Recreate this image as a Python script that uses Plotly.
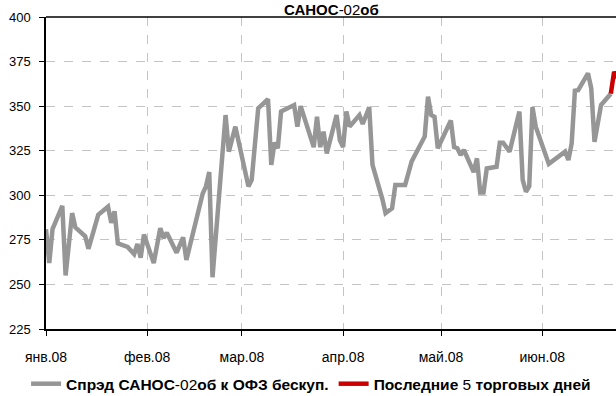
import plotly.graph_objects as go

# Spread series (gray)
dates = [
    "2008-01-01", "2008-01-02", "2008-01-03", "2008-01-06", "2008-01-07", "2008-01-09",
    "2008-01-10", "2008-01-13", "2008-01-14", "2008-01-17", "2008-01-20", "2008-01-21",
    "2008-01-22", "2008-01-23", "2008-01-26", "2008-01-28", "2008-01-29", "2008-01-30",
    "2008-01-31", "2008-02-03", "2008-02-05", "2008-02-06", "2008-02-07", "2008-02-10",
    "2008-02-12", "2008-02-13", "2008-02-18", "2008-02-19", "2008-02-20", "2008-02-21",
    "2008-02-25", "2008-02-26", "2008-02-28", "2008-03-03", "2008-03-04", "2008-03-06",
    "2008-03-09", "2008-03-10", "2008-03-11", "2008-03-12", "2008-03-13", "2008-03-17",
    "2008-03-18", "2008-03-19", "2008-03-23", "2008-03-24", "2008-03-25", "2008-03-26",
    "2008-03-27", "2008-03-30", "2008-03-31", "2008-04-01", "2008-04-02", "2008-04-03",
    "2008-04-06", "2008-04-07", "2008-04-09", "2008-04-10", "2008-04-13", "2008-04-14",
    "2008-04-16", "2008-04-17", "2008-04-20", "2008-04-22", "2008-04-26", "2008-04-27",
    "2008-04-28", "2008-04-29", "2008-04-30", "2008-05-04", "2008-05-05", "2008-05-06",
    "2008-05-07", "2008-05-08", "2008-05-11", "2008-05-12", "2008-05-13", "2008-05-14",
    "2008-05-15", "2008-05-18", "2008-05-19", "2008-05-20", "2008-05-22", "2008-05-25",
    "2008-05-26", "2008-05-27", "2008-05-28", "2008-05-29", "2008-05-30", "2008-06-02",
    "2008-06-03", "2008-06-08", "2008-06-09", "2008-06-10", "2008-06-11", "2008-06-12",
    "2008-06-15", "2008-06-16", "2008-06-17", "2008-06-19", "2008-06-22",
]
spread = [
    281, 262, 281, 294, 255, 290,
    282, 277, 270, 289, 293.6, 284.5,
    291, 273, 271, 267, 272.7, 265,
    278, 262, 281.6, 276, 279, 267.8,
    276.4, 263.7, 301, 305, 313, 254,
    345, 324.5, 338.5, 305, 308.6, 348.8,
    354, 317, 329.5, 326.4, 347, 350.6,
    338.5, 350, 327, 344, 327, 335.7,
    323.5, 345, 331, 327, 347, 338.5,
    345, 340, 349.4, 317, 298, 290,
    292.7, 305.8, 305.8, 319, 333, 355.3,
    345, 344, 326.4, 342, 327, 326.4,
    322.6, 325.4, 313, 320.7, 301.5, 301.5,
    315, 316, 329.5, 329.5, 324.5, 347,
    308.6, 302, 305, 349.4, 338.5, 321.3,
    317.6, 324.5, 319.8, 329, 358.7, 359,
    368.4, 360, 330, 350.6, 357,
]

# Last 5 trading days (red)
last_dates = ["2008-06-22", "2008-06-23", "2008-06-24", "2008-06-25", "2008-06-26"]
last_vals = [357, 369.3, 366, 370, 368]

month_ticks = ["2008-01-01", "2008-02-01", "2008-03-01", "2008-04-01", "2008-05-01", "2008-06-01"]
month_labels = ["янв.08", "фев.08", "мар.08", "апр.08", "май.08", "июн.08"]
y_ticks = [225, 250, 275, 300, 325, 350, 375, 400]

FONT = "Liberation Sans, Arial, sans-serif"

fig = go.Figure()
fig.add_trace(go.Scatter(
    x=dates, y=spread, mode="lines",
    line=dict(color="#969696", width=4.5),
    name="<b>Спрэд САНОС</b>-02<b>об к ОФЗ бескуп.</b>",
))
fig.add_trace(go.Scatter(
    x=last_dates, y=last_vals, mode="lines",
    line=dict(color="#cc0000", width=4.5),
    name="<b>Последние</b> 5 <b>торговых дней</b>",
))

fig.update_layout(
    width=616, height=396,
    margin=dict(l=46, r=0, t=17, b=67, autoexpand=False),
    paper_bgcolor="white", plot_bgcolor="white",
    font=dict(family=FONT, size=14, color="black"),
    showlegend=True,
    legend=dict(
        orientation="h", xref="container", yref="container",
        x=0.505, xanchor="center", y=0.03, yanchor="middle",
        font=dict(size=15.5), itemwidth=30, tracegroupgap=0,
        bgcolor="rgba(0,0,0,0)",
    ),
    annotations=[dict(
        text="<b>САНОС</b>-02<b>об</b>", xref="paper", yref="paper",
        x=0.5, y=1.0545, xanchor="center", yanchor="top", borderpad=0,
        showarrow=False, font=dict(size=15, family=FONT),
    )],
    shapes=[dict(type="line", xref="paper", yref="paper", x0=0, x1=1, y0=1, y1=1,
                 line=dict(color="black", width=1.5))],
)

fig.update_xaxes(
    type="date", range=["2008-01-01", "2008-06-23 14:00"],
    tickvals=month_ticks, ticktext=month_labels,
    ticks="outside", ticklen=5, tickcolor="black",
    showline=True, linecolor="black", linewidth=1.5,
    showgrid=True, gridcolor="#c4c4c4", griddash="dash", gridwidth=1,
    ticklabelstandoff=9, zeroline=False,
    tickfont=dict(size=14),
)
fig.update_yaxes(
    range=[225, 400], tickvals=y_ticks,
    ticks="outside", ticklen=5, tickcolor="black",
    showline=True, linecolor="black", linewidth=1.5,
    showgrid=True, gridcolor="#c4c4c4", griddash="dash", gridwidth=1,
    ticklabelstandoff=6, zeroline=False,
    tickfont=dict(size=13),
)

fig.write_html("out.html", config={"displayModeBar": False},
               post_script="document.body.style.margin='0';")
